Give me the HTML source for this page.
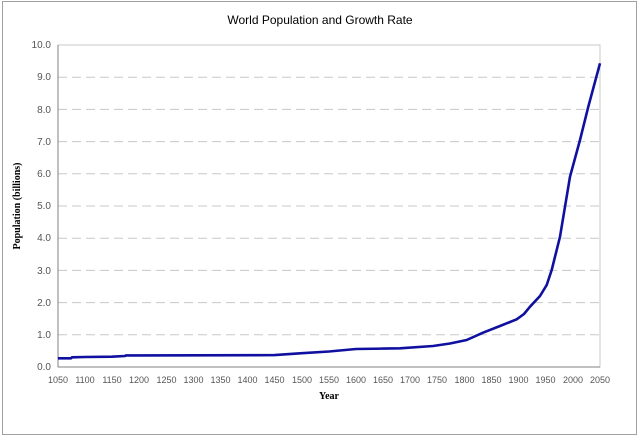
<!DOCTYPE html>
<html><head><style>
body{margin:0;background:#fff;width:640px;height:437px;overflow:hidden}
</style></head><body>
<svg width="640" height="437" xmlns="http://www.w3.org/2000/svg" font-family="Liberation Sans, sans-serif">
<rect x="2.5" y="1.5" width="634" height="433" fill="#fff" stroke="#a0a0a0"/>
<text x="320" y="24" font-size="12" text-anchor="middle" fill="#000">World Population and Growth Rate</text>
<rect x="58" y="45" width="542" height="322" fill="#fff" stroke="#c8c8c8"/>
<g stroke="#c8c8c8" stroke-dasharray="9,5">
<line x1="58" x2="600" y1="77.2" y2="77.2"/><line x1="58" x2="600" y1="109.4" y2="109.4"/>
<line x1="58" x2="600" y1="141.6" y2="141.6"/><line x1="58" x2="600" y1="173.8" y2="173.8"/>
<line x1="58" x2="600" y1="206" y2="206"/><line x1="58" x2="600" y1="238.2" y2="238.2"/>
<line x1="58" x2="600" y1="270.4" y2="270.4"/><line x1="58" x2="600" y1="302.6" y2="302.6"/>
<line x1="58" x2="600" y1="334.8" y2="334.8"/>
</g>
<line x1="58" y1="45" x2="58" y2="367" stroke="#808080"/>
<line x1="58" y1="367" x2="600" y2="367" stroke="#808080"/>
<g font-size="10" fill="#555" text-anchor="end">
<text x="51" y="48">10.0</text><text x="51" y="80">9.0</text><text x="51" y="113">8.0</text>
<text x="51" y="145">7.0</text><text x="51" y="177">6.0</text><text x="51" y="209">5.0</text>
<text x="51" y="241">4.0</text><text x="51" y="274">3.0</text><text x="51" y="306">2.0</text>
<text x="51" y="338">1.0</text><text x="51" y="370">0.0</text>
</g>
<g font-size="9" fill="#555" text-anchor="middle">
<text x="58" y="383">1050</text><text x="85" y="383">1100</text><text x="112" y="383">1150</text><text x="139" y="383">1200</text><text x="166.5" y="383">1250</text><text x="193.5" y="383">1300</text><text x="220.5" y="383">1350</text><text x="247.5" y="383">1400</text><text x="274.5" y="383">1450</text><text x="302" y="383">1500</text><text x="329" y="383">1550</text><text x="356" y="383">1600</text><text x="383" y="383">1650</text><text x="410" y="383">1700</text><text x="437" y="383">1750</text><text x="464.5" y="383">1800</text><text x="491.5" y="383">1850</text><text x="518.5" y="383">1900</text><text x="545.5" y="383">1950</text><text x="573" y="383">2000</text><text x="600" y="383">2050</text>
</g>
<text x="329" y="399" font-size="10" font-weight="bold" text-anchor="middle" font-family="Liberation Serif, serif">Year</text>
<text transform="translate(20,206) rotate(-90)" font-size="10" font-weight="bold" text-anchor="middle" font-family="Liberation Serif, serif">Population (billions)</text>
<polyline fill="none" stroke="#1010a0" stroke-width="2.6" stroke-linejoin="round" points="58,358.3 71,358.3 72,357.3 85,357 112,356.7 125,356 126,355.4 139,355.4 274.5,355.1 302,353.2 329,351.5 356,349 383,348.6 400,348.3 433,346 450,343.5 466.7,340 483,332.7 500,326 516.7,319.3 524,314 530,306.7 540,296 546.7,285 551.7,270 560,236.7 570,176.7 580,140 588.3,106.7 600,63.3"/>
</svg>
</body></html>
